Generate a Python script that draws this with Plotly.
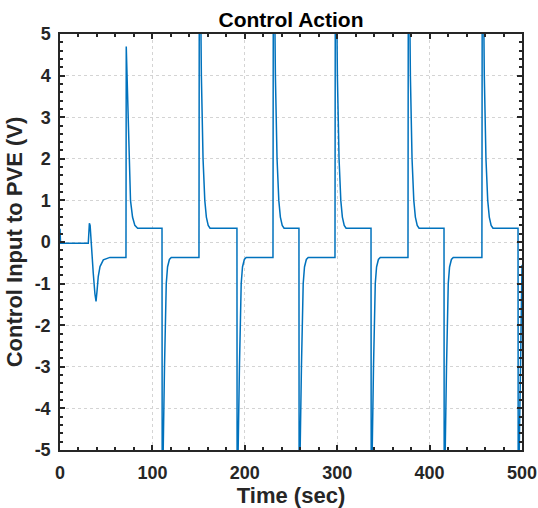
import plotly.graph_objects as go

# Time (sec) and control input (V) breakpoints
time_s = [
    0.0, 0.6, 30.6, 31.8, 32.6, 34.3, 36.0, 37.8, 39.0, 40.2, 41.4, 43.3, 46.9, 54.0,
    71.4, 71.7, 72.6, 74.6, 76.3, 78.5, 81.0, 84.0, 110.4,
    110.7, 111.7, 113.1, 115.0, 116.4, 118.4, 120.4, 150.4,
    150.9, 153.0, 154.8, 156.7, 158.4, 160.4, 162.4, 191.5,
    191.8, 192.8, 194.2, 196.1, 197.5, 199.5, 201.5, 230.5,
    231.0, 233.1, 234.9, 236.8, 238.5, 240.5, 242.5, 258.6,
    258.9, 259.9, 261.3, 263.2, 264.6, 266.6, 268.6, 297.6,
    298.1, 300.2, 302.0, 303.9, 305.6, 307.6, 309.6, 336.6,
    336.9, 337.9, 339.3, 341.2, 342.6, 344.6, 346.6, 376.6,
    377.1, 379.2, 381.0, 382.9, 384.6, 386.6, 388.6, 415.6,
    415.9, 416.9, 418.3, 420.2, 421.6, 423.6, 425.6, 456.6,
    457.1, 459.2, 461.0, 462.9, 464.6, 466.6, 468.6, 495.7,
    496.0, 497.0, 498.4, 499.6, 500.0,
]
control_v = [
    0.32, -0.03, -0.03, 0.45, 0.40, -0.27, -0.75, -1.25, -1.43, -1.15, -0.83, -0.59, -0.43, -0.37,
    -0.37, 4.7, 4.0, 2.0, 1.0, 0.6, 0.4, 0.33, 0.33,
    -9, -5, -3, -1, -0.6, -0.42, -0.37, -0.37,
    9, 4.0, 2.0, 1.0, 0.6, 0.4, 0.33, 0.33,
    -9, -5, -3, -1, -0.6, -0.42, -0.37, -0.37,
    9, 4.0, 2.0, 1.0, 0.6, 0.4, 0.33, 0.33,
    -9, -5, -3, -1, -0.6, -0.42, -0.37, -0.37,
    9, 4.0, 2.0, 1.0, 0.6, 0.4, 0.33, 0.33,
    -9, -5, -3, -1, -0.6, -0.42, -0.37, -0.37,
    9, 4.0, 2.0, 1.0, 0.6, 0.4, 0.33, 0.33,
    -9, -5, -3, -1, -0.6, -0.42, -0.37, -0.37,
    9, 4.0, 2.0, 1.0, 0.6, 0.4, 0.33, 0.33,
    -9, -5, -3, -1.0, -0.55,
]

x_ticks = [0, 100, 200, 300, 400, 500]
y_ticks = [-5, -4, -3, -2, -1, 0, 1, 2, 3, 4, 5]

FONT = "Liberation Sans, Arial"
W, H = 538, 508

fig = go.Figure()
fig.add_trace(go.Scatter(
    x=time_s, y=control_v, mode="lines",
    line=dict(color="#0072BD", width=1.5),
    showlegend=False, hoverinfo="skip",
))

axis_common = dict(
    showline=True, linecolor="#262626", linewidth=1.5, mirror="allticks",
    ticks="inside", ticklen=5, tickwidth=1.5, tickcolor="#262626",
    showgrid=True, gridcolor="#d4d4d4", griddash="dot", gridwidth=1,
    zeroline=False, automargin=False,
    tickfont=dict(family=FONT, size=18, color="#262626", weight="bold"),
)

fig.update_xaxes(
    range=[0, 500], tickvals=x_ticks, ticktext=[str(v) for v in x_ticks],
    minor=dict(dtick=20, ticks="inside", ticklen=3, tickcolor="#262626", showgrid=False),
    title=dict(text="Time (sec)", font=dict(family=FONT, size=22, color="#262626", weight="bold"), standoff=6),
    ticklabelstandoff=6,
    **axis_common,
)
fig.update_yaxes(
    range=[-5, 5], tickvals=y_ticks, ticktext=[str(v) for v in y_ticks],
    minor=dict(dtick=0.2, ticks="inside", ticklen=3, tickcolor="#262626", showgrid=False),
    title=dict(text="Control Input to PVE (V)", font=dict(family=FONT, size=22, color="#262626", weight="bold"), standoff=6),
    ticklabelstandoff=4,
    **axis_common,
)

fig.update_layout(
    width=W, height=H,
    margin=dict(l=60, r=16, t=34, b=58, autoexpand=False),
    paper_bgcolor="white", plot_bgcolor="white",
    title=dict(text="Control Action", x=291 / W, xanchor="center", y=1 - 20 / H, yanchor="middle",
               automargin=False,
               font=dict(family=FONT, size=21, color="black", weight="bold")),
)

fig.write_html(
    "out.html",
    config={"displayModeBar": False},
    post_script="document.body.style.margin='0';document.body.style.overflow='hidden';",
)
